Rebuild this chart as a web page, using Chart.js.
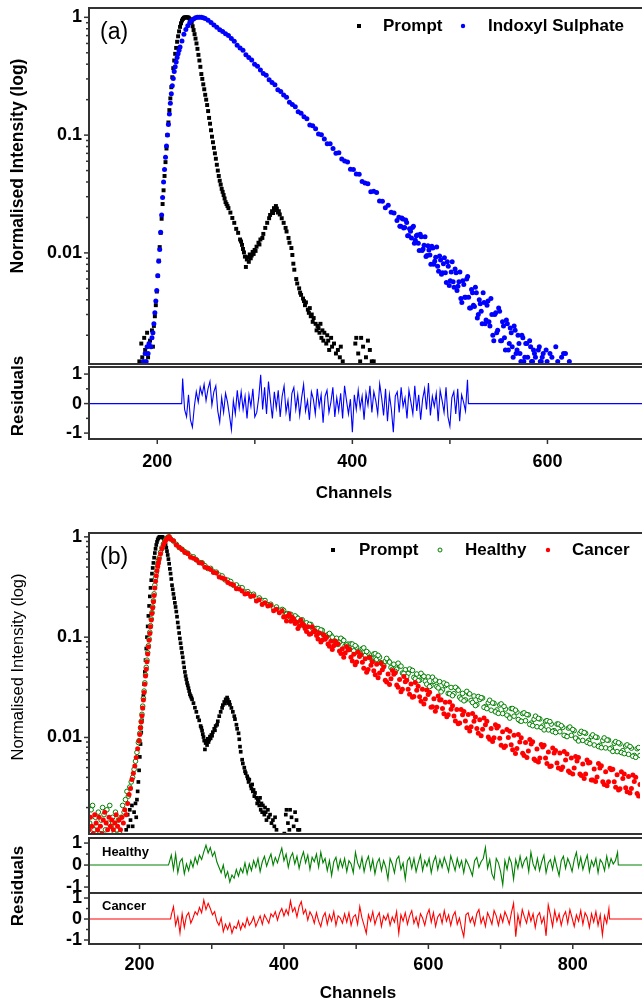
<!DOCTYPE html>
<html>
<head>
<meta charset="utf-8">
<script src="https://cdn.jsdelivr.net/npm/chart.js@4.4.0/dist/chart.umd.min.js"></script>
<style>
  html, body { margin: 0; padding: 0; background: #fff; }
  #page { position: relative; width: 642px; height: 1003px; overflow: hidden; background: #fff; }
  #page canvas { position: absolute; left: 0; }
</style>
</head>
<body>
<div id="page">
  <canvas id="aMain"></canvas>
  <canvas id="aRes"></canvas>
  <canvas id="bMain"></canvas>
  <canvas id="bResH"></canvas>
  <canvas id="bResC"></canvas>
</div>
<script>
// ---- data: [channel, normalised intensity] ----
const promptData = [[182,0.0012],[184,0.0017],[185,0.0013],[187,0.0019],[188,0.0015],[190,0.0021],[191,0.0013],[193,0.0018],[195,0.0022],[196,0.0016],[197,0.0024],[198,0.0029],[199,0.0036],[200,0.0047],[201,0.0064],[202,0.0086],[203,0.0112],[204,0.0148],[205,0.0195],[206,0.026],[207,0.034],[208,0.045],[209,0.059],[210,0.077],[211,0.1],[212,0.128],[213,0.163],[214,0.205],[215,0.255],[216,0.31],[217,0.37],[218,0.43],[219,0.49],[220,0.55],[221,0.62],[222,0.69],[223,0.76],[224,0.83],[225,0.89],[226,0.94],[227,0.97],[228,0.99],[229,1.0],[230,1.0],[231,1.0],[232,1.0],[233,0.99],[234,0.97],[235,0.95],[236,0.9],[237,0.84],[238,0.78],[239,0.72],[240,0.66],[241,0.6],[242,0.54],[243,0.48],[244,0.43],[245,0.38],[246,0.33],[247,0.3],[248,0.27],[249,0.245],[250,0.22],[251,0.2],[252,0.18],[253,0.16],[254,0.14],[255,0.125],[256,0.11],[257,0.097],[258,0.087],[259,0.078],[260,0.07],[261,0.063],[262,0.056],[263,0.05],[264,0.045],[265,0.041],[266,0.038],[267,0.035],[268,0.033],[269,0.031],[270,0.029],[271,0.027],[272,0.026],[273,0.025],[274,0.024],[276,0.022],[278,0.0198],[280,0.018],[282,0.016],[284,0.0148],[286,0.013],[287,0.0125],[288,0.0117],[289,0.0108],[290,0.0101],[291,0.0093],[292,0.0076],[293,0.0088],[294,0.0092],[295,0.0084],[296,0.0097],[297,0.009],[298,0.0095],[299,0.0102],[300,0.0098],[301,0.0106],[302,0.0104],[303,0.0113],[305,0.0122],[306,0.0118],[307,0.013],[309,0.0134],[310,0.0145],[312,0.0163],[314,0.018],[316,0.0197],[317,0.021],[319,0.0226],[320,0.0218],[321,0.024],[322,0.0231],[323,0.025],[324,0.0238],[325,0.022],[326,0.0226],[327,0.0212],[329,0.0197],[331,0.018],[333,0.0163],[334,0.0152],[336,0.0134],[337,0.0122],[339,0.011],[340,0.0096],[341,0.0081],[342,0.0072],[344,0.006],[345,0.0055],[347,0.005],[348,0.0046],[349,0.0044],[351,0.0041],[352,0.0039],[353,0.0036],[354,0.0038],[356,0.0033],[357,0.0031],[358,0.0034],[359,0.0029],[360,0.003],[361,0.0026],[362,0.0028],[364,0.0025],[365,0.0022],[366,0.0024],[367,0.0023],[368,0.0021],[369,0.0025],[370,0.0019],[371,0.0022],[372,0.0018],[373,0.0021],[375,0.0017],[376,0.002],[377,0.0018],[378,0.0015],[380,0.0019],[381,0.0016],[383,0.0017],[385,0.0014],[387,0.0015],[389,0.0013],[390,0.0016],[392,0.0012],[403,0.0011],[405,0.0017],[406,0.0019],[408,0.0014],[410,0.0012],[411,0.0019],[413,0.0016],[416,0.0013],[418,0.0018],[420,0.0015],[422,0.0012],[424,0.0012]];

const indoxylData = [[186,0.0012],[188,0.0014],[189,0.0012],[190,0.0016],[191,0.0014],[192,0.0017],[194,0.0016],[195,0.0019],[196,0.0021],[197,0.0025],[198,0.0031],[199,0.0039],[200,0.0048],[201,0.0064],[202,0.0085],[203,0.0107],[204,0.015],[205,0.021],[206,0.0295],[207,0.04],[208,0.051],[209,0.065],[210,0.081],[211,0.1],[212,0.123],[213,0.151],[214,0.186],[215,0.224],[216,0.263],[217,0.302],[218,0.347],[219,0.38],[220,0.417],[221,0.457],[222,0.49],[223,0.525],[224,0.56],[226,0.63],[228,0.72],[230,0.79],[232,0.85],[234,0.9],[236,0.94],[238,0.97],[240,0.99],[242,1.0],[244,1.0],[246,1.0],[248,0.99],[250,0.977],[253,0.944],[256,0.902],[259,0.861],[262,0.822],[265,0.785],[268,0.759],[271,0.724],[274,0.7],[277,0.66],[280,0.626],[283,0.579],[286,0.55],[289,0.525],[292,0.481],[295,0.457],[298,0.434],[301,0.399],[304,0.384],[307,0.358],[310,0.333],[313,0.322],[316,0.295],[319,0.28],[322,0.268],[325,0.243],[328,0.235],[331,0.219],[334,0.21],[337,0.19],[340,0.182],[343,0.174],[346,0.158],[349,0.153],[352,0.143],[355,0.138],[358,0.122],[361,0.12],[364,0.113],[367,0.102],[370,0.1006],[373,0.0927],[376,0.0845],[379,0.0845],[382,0.077],[385,0.0702],[388,0.0709],[391,0.0628],[394,0.0603],[397,0.0591],[400,0.0512],[403,0.0511],[406,0.0467],[409,0.0466],[412,0.0404],[415,0.0393],[418,0.0387],[421,0.033],[424,0.0334],[427,0.0325],[430,0.0276],[433,0.0275],[436,0.0242],[439,0.0254],[442,0.0221],[445,0.0218],[448,0.0188],[450,0.0201],[452,0.0168],[454,0.0194],[456,0.0164],[458,0.0181],[460,0.014],[462,0.0153],[464,0.0164],[466,0.0121],[468,0.014],[470,0.0121],[472,0.0144],[474,0.0105],[476,0.0116],[478,0.0093],[480,0.0115],[482,0.0096],[484,0.0114],[486,0.008],[488,0.0092],[490,0.0077],[492,0.0094],[494,0.0066],[496,0.0081],[498,0.0068],[500,0.0084],[502,0.0053],[504,0.0069],[506,0.0057],[508,0.0073],[510,0.0048],[512,0.0057],[514,0.0041],[516,0.0058],[518,0.0042],[520,0.006],[522,0.0042],[524,0.0034],[526,0.0046],[528,0.0035],[530,0.0046],[532,0.003],[534,0.0037],[536,0.0025],[538,0.0038],[540,0.0027],[542,0.0039],[544,0.0024],[546,0.003],[548,0.0018],[550,0.0031],[552,0.0022],[554,0.0032],[556,0.0018],[558,0.0024],[560,0.0015],[562,0.0025],[564,0.0017],[566,0.0021],[568,0.0013],[570,0.0022],[572,0.0015],[574,0.0017],[576,0.0012],[578,0.0019],[580,0.0013],[582,0.0017],[584,0.0011],[586,0.0016],[588,0.0012],[590,0.0014],[592,0.0011],[594,0.0015],[596,0.0012],[598,0.0013],[600,0.0011],[603,0.0012],[606,0.0014],[610,0.0011],[614,0.0012],[618,0.0013],[622,0.0014],[626,0.0012],[630,0.0011]];
const indoxylExtra = [[451,0.0168],[453,0.0198],[455,0.0163],[457,0.019],[459,0.014],[461,0.016],[463,0.0134],[465,0.0168],[467,0.0128],[469,0.0142],[471,0.0105],[473,0.0137],[475,0.0108],[477,0.0137],[479,0.0095],[481,0.0106],[483,0.008],[485,0.011],[487,0.0085],[489,0.0112],[491,0.007],[493,0.0087],[495,0.0068],[497,0.0091],[499,0.0056],[501,0.0077],[503,0.0058],[505,0.0084],[507,0.0051],[509,0.0068],[511,0.0052],[513,0.0069],[515,0.0038],[517,0.0054],[519,0.0042],[521,0.0063],[523,0.0034],[525,0.0049],[527,0.0036],[529,0.0051],[531,0.0028],[533,0.004],[535,0.0032],[537,0.0046],[539,0.0025],[541,0.0036],[543,0.0026],[545,0.0041],[547,0.002],[549,0.003],[551,0.0021],[553,0.0034],[555,0.0018],[557,0.0026],[559,0.0019],[561,0.0027],[563,0.0015],[565,0.0023],[567,0.0016],[569,0.0024],[571,0.0014],[573,0.002],[575,0.0014],[577,0.002],[579,0.0012],[581,0.0017],[583,0.0013],[585,0.0018],[587,0.0012],[589,0.0015],[591,0.0013],[593,0.0011],[595,0.0016],[597,0.0012],[599,0.0014],[602,0.0015],[608,0.0013],[612,0.0016],[616,0.0011],[620,0.0014]];

const healthyData = [[131,0.0014],[133,0.0019],[135,0.0021],[137,0.0012],[139,0.0016],[141,0.0013],[143,0.0018],[145,0.0011],[147,0.0015],[149,0.002],[151,0.0017],[153,0.0012],[155,0.0019],[157,0.0014],[159,0.0021],[161,0.0013],[163,0.0016],[165,0.0011],[167,0.0018],[169,0.0012],[171,0.0015],[173,0.0011],[175,0.0016],[177,0.0021],[179,0.0018],[181,0.0024],[183,0.0029],[185,0.0026],[187,0.0032],[189,0.0036],[191,0.004],[193,0.0048],[195,0.0058],[197,0.0071],[199,0.0089],[200,0.0093],[201,0.011],[202,0.0126],[203,0.0145],[204,0.017],[205,0.0205],[206,0.0245],[207,0.029],[208,0.035],[209,0.042],[210,0.05],[211,0.059],[212,0.07],[213,0.082],[214,0.096],[215,0.112],[216,0.13],[217,0.152],[218,0.176],[219,0.2],[220,0.23],[221,0.27],[222,0.33],[223,0.39],[224,0.44],[225,0.49],[226,0.54],[227,0.58],[228,0.62],[230,0.7],[232,0.78],[234,0.85],[236,0.91],[238,0.96],[240,0.99],[242,1.0],[244,0.955],[248,0.908],[252,0.843],[256,0.783],[260,0.753],[264,0.711],[268,0.687],[272,0.64],[276,0.632],[280,0.59],[284,0.557],[288,0.552],[292,0.516],[296,0.484],[300,0.485],[304,0.449],[308,0.445],[312,0.416],[316,0.408],[320,0.373],[324,0.37],[328,0.359],[332,0.329],[336,0.332],[340,0.312],[344,0.311],[348,0.282],[352,0.284],[356,0.265],[360,0.268],[364,0.244],[368,0.246],[372,0.232],[376,0.232],[380,0.211],[384,0.213],[388,0.194],[392,0.2],[396,0.185],[400,0.189],[404,0.166],[408,0.172],[412,0.169],[416,0.151],[420,0.158],[424,0.142],[428,0.149],[432,0.129],[436,0.134],[440,0.134],[444,0.116],[448,0.122],[452,0.111],[456,0.117],[460,0.102],[464,0.106],[468,0.105],[472,0.0916],[476,0.0975],[480,0.0891],[484,0.0948],[488,0.082],[492,0.0853],[496,0.0857],[500,0.0731],[504,0.0796],[508,0.0721],[512,0.0767],[516,0.0656],[520,0.0697],[524,0.0624],[528,0.0679],[532,0.0601],[536,0.0632],[540,0.054],[544,0.0574],[548,0.0583],[552,0.0499],[556,0.0537],[560,0.048],[564,0.0518],[568,0.0439],[572,0.0473],[576,0.0435],[580,0.0469],[584,0.0397],[588,0.0429],[592,0.0372],[596,0.0415],[600,0.0364],[604,0.0402],[608,0.0329],[612,0.0363],[616,0.0322],[620,0.036],[624,0.0298],[628,0.0329],[632,0.0275],[636,0.0315],[640,0.0273],[644,0.0308],[648,0.0252],[652,0.0275],[656,0.0237],[660,0.0275],[664,0.0234],[668,0.0259],[672,0.0213],[676,0.0239],[680,0.0247],[684,0.0203],[688,0.0222],[692,0.0187],[696,0.0219],[700,0.0188],[704,0.0211],[708,0.0173],[712,0.0192],[716,0.0164],[720,0.0194],[724,0.0163],[728,0.0179],[732,0.0147],[736,0.0173],[740,0.0147],[744,0.0168],[748,0.0139],[752,0.0152],[756,0.0128],[760,0.0153],[764,0.013],[768,0.0145],[772,0.0119],[776,0.0136],[780,0.0117],[784,0.0136],[788,0.0114],[792,0.0126],[796,0.0104],[800,0.0124],[804,0.0105],[808,0.0117],[812,0.00966],[816,0.011],[820,0.00935],[824,0.011],[828,0.00929],[832,0.0102],[836,0.00841],[840,0.01],[844,0.00836],[848,0.00931],[852,0.00787],[856,0.0094],[860,0.00785],[864,0.00875],[868,0.00723],[872,0.00863],[876,0.00738],[880,0.00822],[884,0.00679],[888,0.00783],[892,0.00662],[896,0.00773],[900,0.00661]];
const healthyExtra = [[402,0.185],[406,0.169],[410,0.161],[414,0.152],[418,0.163],[422,0.154],[426,0.146],[430,0.13],[434,0.139],[438,0.134],[442,0.124],[446,0.114],[450,0.122],[454,0.118],[458,0.105],[462,0.102],[466,0.109],[470,0.1],[474,0.0908],[478,0.0845],[482,0.0975],[486,0.0927],[490,0.0834],[494,0.0757],[498,0.0853],[502,0.0822],[506,0.0697],[510,0.0678],[514,0.0782],[518,0.0719],[522,0.0624],[526,0.0574],[530,0.0684],[534,0.0659],[538,0.0558],[542,0.052],[546,0.0614],[550,0.0564],[554,0.0478],[558,0.0455],[562,0.055],[566,0.0514],[570,0.0435],[574,0.0402],[578,0.0481],[582,0.0466],[586,0.0385],[590,0.0368],[594,0.0436],[598,0.0407],[602,0.034],[606,0.0322],[610,0.0399],[614,0.0373],[618,0.0312],[622,0.0285],[626,0.0349],[630,0.0338],[634,0.0273],[638,0.0261],[642,0.0316],[646,0.0296],[650,0.0242],[654,0.0232],[658,0.0288],[662,0.0272],[666,0.0223],[670,0.0208],[674,0.0256],[678,0.0249],[682,0.02],[686,0.0194],[690,0.0235],[694,0.0221],[698,0.018],[702,0.0174],[706,0.0216],[710,0.0204],[714,0.0167],[718,0.0156],[722,0.0194],[726,0.0187],[730,0.0151],[734,0.0145],[738,0.0176],[742,0.0169],[746,0.0135],[750,0.0131],[754,0.0163],[758,0.0155],[762,0.0126],[766,0.0119],[770,0.0147],[774,0.0144],[778,0.0115],[782,0.0112],[786,0.0136],[790,0.0131],[794,0.0105],[798,0.0102],[802,0.0127],[806,0.012],[810,0.00986],[814,0.00923],[818,0.0115],[822,0.0112],[826,0.00895],[830,0.00867],[834,0.0106],[838,0.0101],[842,0.00813],[846,0.00791],[850,0.00989],[854,0.00942],[858,0.00771],[862,0.00726],[866,0.00908],[870,0.00885],[874,0.00708],[878,0.0069],[882,0.00843],[886,0.00813],[890,0.0065],[894,0.00634],[898,0.00793]];

const cancerData = [[130,0.0012],[132,0.0016],[134,0.0013],[136,0.0011],[138,0.0017],[140,0.0014],[142,0.0012],[144,0.0016],[146,0.0013],[148,0.0011],[150,0.0015],[152,0.0018],[154,0.0014],[156,0.0012],[158,0.0016],[160,0.0013],[162,0.0015],[164,0.0012],[166,0.0014],[168,0.0017],[170,0.0013],[172,0.0015],[174,0.0012],[176,0.0016],[178,0.0014],[180,0.0019],[182,0.0017],[184,0.0022],[186,0.0027],[188,0.0031],[190,0.0038],[192,0.0044],[194,0.0052],[196,0.0063],[198,0.0077],[200,0.0092],[201,0.0107],[202,0.0124],[203,0.0143],[204,0.0165],[205,0.0197],[206,0.0236],[207,0.028],[208,0.034],[209,0.041],[210,0.048],[211,0.057],[212,0.068],[213,0.08],[214,0.093],[215,0.109],[216,0.127],[217,0.148],[218,0.172],[219,0.197],[220,0.226],[221,0.26],[222,0.31],[223,0.36],[224,0.41],[225,0.46],[226,0.51],[227,0.55],[228,0.6],[230,0.68],[232,0.76],[234,0.83],[236,0.89],[238,0.94],[240,0.98],[242,1.0],[244,0.955],[248,0.916],[252,0.83],[256,0.789],[260,0.75],[264,0.698],[268,0.681],[272,0.627],[276,0.612],[280,0.59],[284,0.551],[288,0.545],[292,0.498],[296,0.488],[300,0.472],[304,0.442],[308,0.437],[312,0.398],[316,0.389],[320,0.38],[324,0.351],[328,0.339],[332,0.331],[336,0.304],[340,0.303],[344,0.288],[348,0.27],[352,0.272],[356,0.254],[360,0.259],[364,0.23],[368,0.236],[372,0.212],[376,0.221],[380,0.204],[384,0.208],[388,0.183],[392,0.19],[396,0.175],[400,0.182],[404,0.16],[408,0.163],[412,0.144],[416,0.153],[420,0.141],[424,0.129],[428,0.135],[432,0.122],[436,0.127],[440,0.108],[444,0.114],[448,0.104],[452,0.11],[456,0.0937],[460,0.0955],[464,0.0855],[468,0.0912],[472,0.082],[476,0.0855],[480,0.0726],[484,0.0767],[488,0.0697],[492,0.0745],[496,0.0632],[500,0.0674],[504,0.0566],[508,0.0641],[512,0.0562],[516,0.0608],[520,0.0476],[524,0.0526],[528,0.0462],[532,0.0536],[536,0.0439],[540,0.0474],[544,0.0372],[548,0.043],[552,0.0386],[556,0.0428],[560,0.0334],[564,0.0378],[568,0.0303],[572,0.036],[576,0.0302],[580,0.0342],[584,0.0256],[588,0.0296],[592,0.0255],[596,0.0302],[600,0.0242],[604,0.0268],[608,0.02],[612,0.0243],[616,0.02],[620,0.0237],[624,0.0194],[628,0.0225],[632,0.0168],[636,0.0191],[640,0.0164],[644,0.019],[648,0.0139],[652,0.0168],[656,0.0146],[660,0.0169],[664,0.0128],[668,0.0145],[672,0.0123],[676,0.015],[680,0.0121],[684,0.0134],[688,0.0101],[692,0.0123],[696,0.00995],[700,0.0124],[704,0.0098],[708,0.0114],[712,0.0082],[716,0.01],[720,0.00845],[724,0.0105],[728,0.00776],[732,0.00903],[736,0.00697],[740,0.00891],[744,0.00734],[748,0.00861],[752,0.0061],[756,0.00767],[760,0.00624],[764,0.00804],[768,0.00624],[772,0.00716],[776,0.00519],[780,0.007],[784,0.00556],[788,0.007],[792,0.00507],[796,0.00596],[800,0.00462],[804,0.00624],[808,0.00495],[812,0.00582],[816,0.00432],[820,0.00543],[824,0.00432],[828,0.00556],[832,0.00376],[836,0.00484],[840,0.00404],[844,0.00497],[848,0.00361],[852,0.00454],[856,0.00361],[860,0.00476],[864,0.00361],[868,0.00426],[872,0.00308],[876,0.00389],[880,0.00316],[884,0.00407],[888,0.0031],[892,0.00364],[896,0.00277],[900,0.0034]];
const cancerExtra = [[402,0.159],[406,0.145],[410,0.17],[414,0.158],[418,0.137],[422,0.122],[426,0.148],[430,0.133],[434,0.114],[438,0.107],[442,0.127],[446,0.116],[450,0.0961],[454,0.0897],[458,0.106],[462,0.1],[466,0.0811],[470,0.0752],[474,0.0916],[478,0.0859],[482,0.0689],[486,0.0632],[490,0.0807],[494,0.0759],[498,0.0579],[502,0.0532],[506,0.0711],[510,0.0668],[514,0.0489],[518,0.0448],[522,0.0627],[526,0.0569],[530,0.0421],[534,0.0394],[538,0.0553],[542,0.0507],[546,0.0358],[550,0.0337],[554,0.0466],[558,0.0442],[562,0.0316],[566,0.0286],[570,0.0406],[574,0.0372],[578,0.0269],[582,0.0252],[586,0.0353],[590,0.0324],[594,0.0229],[598,0.0215],[602,0.0297],[606,0.0282],[610,0.0202],[614,0.0183],[618,0.0259],[622,0.0238],[626,0.0172],[630,0.0161],[634,0.0226],[638,0.0207],[642,0.0146],[646,0.0137],[650,0.019],[654,0.0182],[658,0.0125],[662,0.0116],[666,0.0173],[670,0.016],[674,0.011],[678,0.0104],[682,0.0156],[686,0.0145],[690,0.00959],[694,0.00912],[698,0.0134],[702,0.0129],[706,0.00836],[710,0.00794],[714,0.012],[718,0.0115],[722,0.00755],[726,0.00693],[730,0.0107],[734,0.00993],[738,0.00659],[742,0.00632],[746,0.00955],[750,0.00904],[754,0.0059],[758,0.0057],[762,0.00853],[766,0.00834],[770,0.00551],[774,0.00514],[778,0.00787],[782,0.00743],[786,0.00497],[790,0.0048],[794,0.00726],[798,0.00685],[802,0.00448],[806,0.00433],[810,0.00647],[814,0.00632],[818,0.00418],[822,0.0039],[826,0.00597],[830,0.00564],[834,0.00377],[838,0.00364],[842,0.00551],[846,0.00521],[850,0.0034],[854,0.0033],[858,0.00492],[862,0.00482],[866,0.00319],[870,0.00299],[874,0.00456],[878,0.00432],[882,0.00288],[886,0.00279],[890,0.00423],[894,0.004],[898,0.00261]];

// residuals: zero outside the fit window [chA, chB, chC, chD], noise from start by step
const resAFlat = [130, 225, 519, 700];
const resAStart = 226, resAStep = 2;
const resAVals = [0.85,-0.2,-0.45,0.3,-0.55,-0.8,-0.1,0.4,0.05,0.55, 0.3,0.65,0.1,0.5,0.75,-0.05,0.4,0.6,-0.25,-0.63, 0.2,-0.3,0.35,0.05,-0.4,-0.88,0.1,-0.35,0.45,-0.15, 0.4,-0.2,0.25,-0.5,0.3,-0.1,0.5,-0.45,-0.3,0.2, 0.98,-0.2,0.55,-0.35,0.75,0.1,-0.5,0.4,-0.15,0.45, -0.45,0.25,0.6,-0.3,0.1,-0.6,0.35,0.55,-0.2,0.3, -0.4,0.2,0.65,-0.25,0.1,-0.55,0.4,0.15,-0.35,0.5, -0.1,0.3,-0.65,0.25,0.45,-0.3,0.05,0.55,-0.45,0.2, -0.25,0.35,-0.5,0.6,0.1,-0.35,0.15,-0.97,0.3,-0.2, 0.45,-0.15,0.25,-0.55,0.35,-0.05,0.6,-0.3,0.4,0.1, -0.35,0.67,0.2,-0.4,0.5,-0.6,0.3,-0.2,-0.97,0.25, 0.4,-0.3,0.55,-0.1,0.2,-0.5,0.45,0.05,-0.35,0.6, -0.25,0.3,-0.55,0.15,0.5,-0.2,0.7,-0.4,0.25,-0.1, 0.35,-0.6,0.45,0.1,-0.3,0.55,-0.45,-0.77,0.2,0.4, -0.35,0.5,-0.6,0.3,0.05,-0.25,0.81];

const resHFlat = [130, 240, 863, 900];
const resHStart = 241, resHStep = 3;
const resHVals = [0.1,0.45,-0.2,0.5,-0.35,0.15,0.3,-0.4,0.05,-0.25, 0.2,-0.1,0.35,0.05,0.45,0.25,0.6,0.9,0.55,0.8, 0.4,0.6,0.15,-0.1,-0.35,0.0,-0.55,-0.3,-0.77,-0.45, -0.6,-0.2,-0.5,-0.15,-0.35,0.1,-0.4,0.05,-0.25,0.2, -0.1,0.3,-0.3,0.15,0.4,-0.05,0.25,0.5,0.0,0.35, 0.1,0.45,0.77,0.2,0.5,-0.1,0.35,0.55,0.05,0.4, -0.15,0.3,0.6,0.1,0.45,-0.2,0.35,0.15,0.5,-0.1, 0.58,0.1,0.3,-0.25,0.2,-0.48,0.15,0.35,-0.2,0.25, -0.1,0.3,-0.3,0.2,0.05,-0.35,0.58,0.1,-0.15,0.35, -0.3,0.15,0.4,-0.2,0.25,-0.4,0.1,0.3,-0.25,0.2, -0.1,-0.64,0.3,0.05,-0.35,0.25,0.4,-0.2,0.1,-0.64, 0.2,0.35,-0.15,0.3,-0.3,0.1,0.45,-0.25,0.2,-0.05, 0.3,-0.35,0.15,0.4,-0.2,0.25,-0.1,0.35,0.05,-0.3, 0.42,0.1,-0.25,0.3,-0.1,0.2,-0.35,0.25,0.05,-0.2, -0.48,0.2,0.35,-0.1,0.15,0.3,0.8,-0.15,0.25,-0.4, -0.64,0.3,0.1,-0.3,-0.9,0.2,-0.2,0.35,0.1,-0.64, 0.25,-0.15,0.4,-0.1,0.2,0.35,-0.3,0.58,0.05,-0.2, 0.3,-0.25,0.15,0.45,-0.35,0.1,0.25,-0.2,0.35,-0.1, -0.48,0.2,0.4,-0.15,0.3,0.05,-0.3,0.25,0.58,-0.1, 0.35,-0.2,0.15,0.45,-0.3,0.2,-0.05,0.3,-0.35,0.25, 0.1,-0.25,0.4,-0.1,0.3,0.05,0.2,0.58];

const resCFlat = [130, 243, 851, 900];
const resCStart = 244, resCStep = 3;
const resCVals = [0.2,0.59,-0.3,0.1,-0.67,0.25,-0.4,0.15,0.3,-0.2, 0.05,0.35,0.2,0.55,0.3,0.9,0.45,0.75,0.5,0.2, 0.35,-0.1,-0.3,0.05,-0.6,-0.25,-0.5,-0.2,-0.67,-0.35, -0.45,-0.1,-0.5,-0.2,-0.4,0.05,-0.3,-0.15,0.1,-0.35, -0.1,0.15,-0.25,0.2,0.0,-0.2,0.25,0.1,0.35,-0.05, 0.3,0.5,0.15,0.45,0.2,0.86,0.35,0.55,0.1,0.6, 0.83,0.25,0.45,-0.05,0.35,0.15,-0.2,0.3,-0.1,-0.36, 0.1,0.3,-0.25,0.2,-0.1,0.35,-0.3,0.15,0.05,-0.2, 0.25,-0.15,0.3,-0.3,0.1,0.2,-0.25,0.59,0.05,-0.3, -0.68,0.2,-0.1,0.35,-0.25,0.1,0.3,-0.35,0.15,-0.05, 0.25,-0.3,0.1,-0.15,0.35,-0.68,0.2,-0.1,0.3,-0.25, 0.15,0.4,-0.2,0.1,-0.35,0.25,0.05,-0.3,0.2,0.45, -0.15,0.3,-0.35,0.1,0.25,-0.2,0.4,-0.1,0.2,-0.3, 0.15,0.35,-0.25,0.05,-0.45,-0.84,0.2,0.3,-0.15,0.1, -0.3,0.25,0.45,-0.2,0.1,-0.35,0.3,0.05,-0.25,0.4, 0.15,-0.3,0.2,-0.15,0.35,0.1,-0.25,0.3,0.75,-0.84, 0.2,-0.3,0.45,0.1,-0.2,0.35,-0.1,0.25,-0.4,0.15, 0.3,-0.2,0.1,-0.8,0.67,0.2,-0.35,0.4,-0.1,0.25, -0.3,0.15,0.35,-0.2,0.45,0.05,-0.35,0.2,-0.1,0.4, -0.25,0.3,0.1,-0.4,0.25,-0.15,0.35,-0.3,0.2,-0.76, 0.15,-0.2,0.5];

// axis ticks
const logTicks = [0.01, 0.1, 1];
const resTicks = [-1, 0, 1];
const resMinor = [-0.5, 0.5];
const xTicksA = [200, 400, 600];
const xMarksA = [200, 300, 400, 500, 600, 700];
const xTicksB = [200, 400, 600, 800];
const xMarksB = [200, 300, 400, 500, 600, 700, 800, 900];

const FONT = "'Liberation Sans', Arial, sans-serif";
const AXIS = '#333';
const BLUE = '#0000ff', GREEN = '#008000', RED = '#ff0000', BLACK = '#000';

Chart.defaults.font.family = FONT;
Chart.defaults.color = '#000';

function pts(arr) { return arr.map(p => ({ x: p[0], y: p[1] })); }

function resSeries(flat, start, step, vals) {
  const out = [{ x: flat[0], y: 0 }, { x: flat[1], y: 0 }];
  vals.forEach((v, i) => out.push({ x: start + i * step, y: v }));
  out.push({ x: flat[2], y: 0 }, { x: flat[3], y: 0 });
  return out;
}

function logMinor(min, max) {
  const out = [];
  for (let d = -3; d <= 0; d++) {
    for (let m = 2; m <= 9; m++) {
      const v = m * Math.pow(10, d);
      if (v > min && v < max) out.push(v);
    }
  }
  return out;
}

function decor(spec) {
  return {
    id: 'decor',
    afterDraw(chart) {
      const { ctx, chartArea: a, scales } = chart;
      const off = spec.top;
      const seg = (x1, y1, x2, y2) => { ctx.beginPath(); ctx.moveTo(x1, y1); ctx.lineTo(x2, y2); ctx.stroke(); };
      ctx.save();
      ctx.strokeStyle = AXIS;
      ctx.lineWidth = 1.5;
      spec.yMajor.forEach(v => { const p = scales.y.getPixelForValue(v); seg(a.left - 5, p, a.left, p); });
      spec.yMinor.forEach(v => { const p = scales.y.getPixelForValue(v); seg(a.left - 3, p, a.left, p); });
      (spec.xMarks || []).forEach(v => { const p = scales.x.getPixelForValue(v); seg(p, a.bottom, p, a.bottom + 5); });
      ctx.lineWidth = 2;
      ctx.strokeRect(a.left, a.top, a.right - a.left + 10, a.bottom - a.top);

      (spec.texts || []).forEach(t => {
        ctx.save();
        ctx.font = t.font;
        ctx.fillStyle = '#000';
        ctx.textAlign = t.align || 'left';
        ctx.textBaseline = 'middle';
        ctx.translate(t.x, t.y - off);
        if (t.rot) ctx.rotate(-Math.PI / 2);
        ctx.fillText(t.text, 0, 0);
        ctx.restore();
      });

      (spec.legend || []).forEach(l => {
        const y = l.y - off;
        ctx.fillStyle = l.color;
        ctx.strokeStyle = l.color;
        if (l.kind === 'rect') {
          ctx.fillRect(l.x - 2, y - 2, 4, 4);
        } else if (l.kind === 'dot') {
          ctx.beginPath(); ctx.arc(l.x, y, 2.2, 0, 2 * Math.PI); ctx.fill();
        } else {
          ctx.lineWidth = 1;
          ctx.beginPath(); ctx.arc(l.x, y, 2, 0, 2 * Math.PI); ctx.stroke();
        }
        ctx.fillStyle = '#000';
        ctx.font = 'bold 17px ' + FONT;
        ctx.textAlign = 'left';
        ctx.textBaseline = 'middle';
        ctx.fillText(l.label, l.tx, y);
      });
      ctx.restore();
    }
  };
}

function xScale(max, show, ticksArr, height, pad) {
  return {
    type: 'linear', min: 130, max: max, display: show,
    grid: { display: false, drawTicks: false, tickLength: 0 }, border: { display: false },
    afterBuildTicks: s => { s.ticks = ticksArr.map(v => ({ value: v })); },
    ticks: { autoSkip: false, maxRotation: 0, padding: pad, color: '#000',
      font: { size: 18, weight: 'bold' }, callback: v => String(v) },
    afterFit: s => { s.height = height; s.paddingLeft = 0; s.paddingRight = 0; }
  };
}

function yScale(type, min, max, ticksArr) {
  return {
    type: type, min: min, max: max,
    grid: { display: false, drawTicks: false, tickLength: 0 }, border: { display: false },
    afterBuildTicks: s => { s.ticks = ticksArr.map(v => ({ value: v })); },
    ticks: { autoSkip: false, padding: 7, color: '#000',
      font: { size: 18, weight: 'bold' }, callback: v => String(v) },
    afterFit: s => { s.width = 89; s.paddingTop = 0; s.paddingBottom = 0; }
  };
}

function makeChart(id, geo, datasets, scales, spec) {
  const cv = document.getElementById(id);
  cv.width = 645; cv.height = geo.h;
  cv.style.width = '645px'; cv.style.height = geo.h + 'px';
  cv.style.top = geo.top + 'px';
  spec.top = geo.top;
  return new Chart(cv, {
    type: 'scatter',
    data: { datasets: datasets },
    options: {
      responsive: false, animation: false, devicePixelRatio: 1, events: [],
      layout: { padding: { top: geo.pt, bottom: geo.pb, left: 0, right: 0 } },
      plugins: { legend: { display: false }, tooltip: { enabled: false } },
      scales: scales
    },
    plugins: [decor(spec)]
  });
}

function markers(data, style, r, fill, border, bw) {
  return { data: pts(data), pointStyle: style, pointRadius: r, pointBackgroundColor: fill,
    pointBorderColor: border, pointBorderWidth: bw, showLine: false };
}

function resLine(data, color) {
  return { data: data, showLine: true, pointRadius: 0, borderColor: color, borderWidth: 1.1, tension: 0 };
}

// ---- panel (a) ----
const aMin = 0.00114, aMax = 1.2;
makeChart('aMain', { top: 0, h: 368, pt: 8, pb: 1 },
  [markers(indoxylData.concat(indoxylExtra), 'circle', 2.5, BLUE, BLUE, 0),
   markers(promptData, 'rect', 2.8, BLACK, BLACK, 0)],
  { x: xScale(700, false, xTicksA, 0, 0), y: yScale('logarithmic', aMin, aMax, logTicks) },
  { yMajor: logTicks, yMinor: logMinor(aMin, aMax),
    texts: [
      { text: '(a)', x: 100, y: 33, font: '23px ' + FONT },
      { text: 'Normalised Intensity (log)', x: 18, y: 166, rot: true, align: 'center', font: 'bold 17.5px ' + FONT }
    ],
    legend: [
      { kind: 'rect', color: BLACK, x: 359, y: 26, label: 'Prompt', tx: 383 },
      { kind: 'dot', color: BLUE, x: 463, y: 26, label: 'Indoxyl Sulphate', tx: 488 }
    ] });

makeChart('aRes', { top: 340, h: 170, pt: 27, pb: 0 },
  [resLine(resSeries(resAFlat, resAStart, resAStep, resAVals), BLUE)],
  { x: xScale(700, true, xTicksA, 71, 12), y: yScale('linear', -1.2, 1.24, resTicks) },
  { yMajor: resTicks, yMinor: resMinor, xMarks: xMarksA,
    texts: [
      { text: 'Residuals', x: 18, y: 396, rot: true, align: 'center', font: 'bold 17px ' + FONT },
      { text: 'Channels', x: 354, y: 493, align: 'center', font: 'bold 17px ' + FONT }
    ] });

// ---- panel (b) ----
const bMin = 0.00109, bMax = 1.093;
makeChart('bMain', { top: 520, h: 319, pt: 13, pb: 1 },
  [markers(cancerData.concat(cancerExtra), 'circle', 2.5, RED, RED, 0),
   markers(healthyData.concat(healthyExtra), 'circle', 2.3, '#ffffff', GREEN, 1),
   markers(promptData, 'rect', 2.6, BLACK, BLACK, 0)],
  { x: xScale(900, false, xTicksB, 0, 0), y: yScale('logarithmic', bMin, bMax, logTicks) },
  { yMajor: logTicks, yMinor: logMinor(bMin, bMax),
    texts: [
      { text: '(b)', x: 100, y: 558, font: '23px ' + FONT },
      { text: 'Normalised Intensity (log)', x: 18, y: 667, rot: true, align: 'center', font: '16.5px ' + FONT }
    ],
    legend: [
      { kind: 'rect', color: BLACK, x: 333, y: 550, label: 'Prompt', tx: 359 },
      { kind: 'ring', color: GREEN, x: 440, y: 550, label: 'Healthy', tx: 465 },
      { kind: 'dot', color: RED, x: 548, y: 550, label: 'Cancer', tx: 572 }
    ] });

makeChart('bResH', { top: 826, h: 79, pt: 12, pb: 12 },
  [resLine(resSeries(resHFlat, resHStart, resHStep, resHVals), GREEN)],
  { x: xScale(900, false, xTicksB, 0, 0), y: yScale('linear', -1.27, 1.23, resTicks) },
  { yMajor: resTicks, yMinor: resMinor,
    texts: [ { text: 'Healthy', x: 102, y: 852, font: 'bold 13px ' + FONT } ] });

makeChart('bResC', { top: 840, h: 163, pt: 53, pb: 0 },
  [resLine(resSeries(resCFlat, resCStart, resCStep, resCVals), RED)],
  { x: xScale(900, true, xTicksB, 59, 10), y: yScale('linear', -1.19, 1.24, resTicks) },
  { yMajor: resTicks, yMinor: resMinor, xMarks: xMarksB,
    texts: [
      { text: 'Cancer', x: 102, y: 906, font: 'bold 13px ' + FONT },
      { text: 'Residuals', x: 18, y: 886, rot: true, align: 'center', font: 'bold 17px ' + FONT },
      { text: 'Channels', x: 358, y: 993, align: 'center', font: 'bold 17px ' + FONT }
    ] });
</script>
</body>
</html>
